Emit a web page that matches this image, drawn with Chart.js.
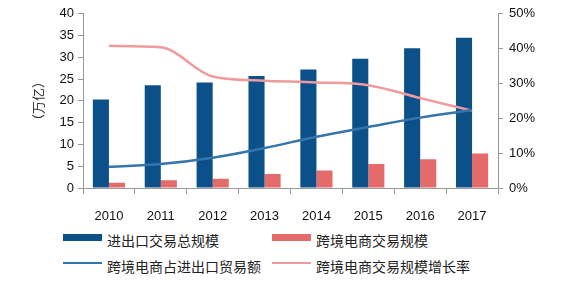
<!DOCTYPE html>
<html>
<head>
<meta charset="utf-8">
<script src="https://cdn.jsdelivr.net/npm/chart.js@4/dist/chart.umd.min.js"></script>
<style>
  body { margin: 0; background: #fff; font-family: "Noto Sans CJK SC", sans-serif; }
  #wrap { position: relative; width: 582px; height: 228px; }
  #legend { position: absolute; left: 63px; top: 230px; width: 520px; display: grid;
    grid-template-columns: 209px 300px; row-gap: 6px; font-size: 14px; color: #222; }
  .item { display: flex; align-items: center; height: 20px; }
  .sw { width: 39px; margin-right: 5px; margin-top: -6px; }
</style>
</head>
<body>
<div id="wrap"><canvas id="chart" width="582" height="228"></canvas></div>
<div id="legend"></div>
<script>
// data
const years = ["2010", "2011", "2012", "2013", "2014", "2015", "2016", "2017"];
const totalTrade = [20.3, 23.6, 24.2, 25.7, 27.2, 29.7, 32.1, 34.5];   // 万亿
const crossBorder = [1.2, 1.8, 2.1, 3.2, 4.0, 5.5, 6.6, 7.9];          // 万亿
const crossShare = [6.1, 6.9, 8.7, 11.5, 14.7, 17.5, 20.2, 22.4];      // %
const crossGrowth = [40.8, 40.4, 32.0, 30.8, 30.3, 29.5, 25.8, 22.2];  // %
const leftTicks = [0, 5, 10, 15, 20, 25, 30, 35, 40];

const axisColor = "#999";
const tickFont = { family: "Liberation Sans", size: 13 };

let ctx = document.getElementById("chart").getContext("2d");
const chart = new Chart(ctx, {
    type: "bar",
    data: {
        labels: years,
        datasets: [
            { type: "line", label: "跨境电商占进出口贸易额", data: crossShare, yAxisID: "y1",
              borderColor: "#3674ac", borderWidth: 2.5, pointRadius: 0, tension: 0.4, order: 0 },
            { type: "line", label: "跨境电商交易规模增长率", data: crossGrowth, yAxisID: "y1",
              borderColor: "#ef9a9c", borderWidth: 2.5, pointRadius: 0,
              cubicInterpolationMode: "monotone", order: 0 },
            { label: "进出口交易总规模", data: totalTrade, yAxisID: "y",
              backgroundColor: "#0b5088", barPercentage: 1, categoryPercentage: 0.62, order: 1 },
            { label: "跨境电商交易规模", data: crossBorder, yAxisID: "y",
              backgroundColor: "#e56b6b", barPercentage: 1, categoryPercentage: 0.62, order: 1 }
        ]
    },
    options: {
        responsive: false,
        animation: false,
        layout: { padding: { top: 7, left: 30, right: 0 } },
        plugins: { legend: { display: false }, tooltip: { enabled: false } },
        scales: {
            x: {
                grid: { drawOnChartArea: false, color: axisColor, tickLength: 6, offset: true },
                border: { color: axisColor },
                ticks: { font: tickFont, color: "#111", padding: 15 },
                afterFit: s => { s.height = 40; }
            },
            y: {
                position: "left", min: 0, max: 40,
                afterBuildTicks: s => { s.ticks = leftTicks.map(v => ({ value: v })); },
                grid: { drawOnChartArea: false, color: axisColor, tickLength: 5 },
                border: { color: axisColor },
                ticks: { font: tickFont, color: "#111", padding: 4 },
                title: { display: true, text: "（万亿）", font: { family: "Noto Sans CJK SC", size: 13 },
                         color: "#333", padding: 0 },
                afterFit: s => { s.width = 53; }
            },
            y1: {
                position: "right", min: 0, max: 50,
                grid: { drawOnChartArea: false, color: axisColor, tickLength: 5 },
                border: { color: axisColor },
                ticks: { stepSize: 10, font: tickFont, color: "#111", padding: 6,
                         callback: v => v + "%" },
                afterFit: s => { s.width = 84; }
            }
        }
    }
});

// legend built from the datasets, laid out in two columns like the original
const legendOrder = [2, 3, 0, 1];
const legendEl = document.getElementById("legend");
legendOrder.forEach(i => {
    const ds = chart.data.datasets[i];
    const item = document.createElement("div");
    item.className = "item";
    const sw = document.createElement("span");
    sw.className = "sw";
    if (ds.type === "line") {
        sw.style.height = "2px";
        sw.style.background = ds.borderColor;
    } else {
        sw.style.height = "7px";
        sw.style.background = ds.backgroundColor;
    }
    const txt = document.createElement("span");
    txt.textContent = ds.label;
    item.appendChild(sw);
    item.appendChild(txt);
    legendEl.appendChild(item);
});
</script>
</body>
</html>
